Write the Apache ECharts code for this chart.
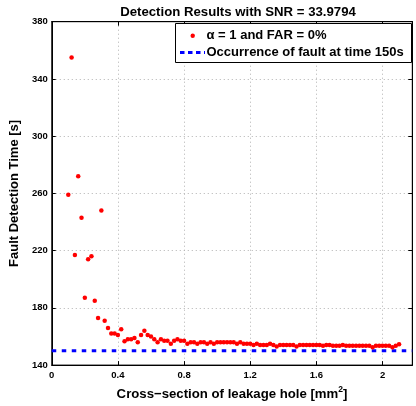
<!DOCTYPE html>
<html><head><meta charset="utf-8">
<script src="https://cdn.jsdelivr.net/npm/echarts@6/dist/echarts.min.js"></script>
<style>html,body{margin:0;padding:0;background:#fff}#c{width:416px;height:406px}</style>
</head><body><div id="c"></div>
<script>
const xs = [0.10,0.12,0.14,0.16,0.18,0.20,0.22,0.24,0.26,0.28,0.30,0.32,0.34,0.36,0.38,0.40,0.42,0.44,0.46,0.48,0.50,0.52,0.54,0.56,0.58,0.60,0.62,0.64,0.66,0.68,0.70,0.72,0.74,0.76,0.78,0.80,0.82,0.84,0.86,0.88,0.90,0.92,0.94,0.96,0.98,1.00,1.02,1.04,1.06,1.08,1.10,1.12,1.14,1.16,1.18,1.20,1.22,1.24,1.26,1.28,1.30,1.32,1.34,1.36,1.38,1.40,1.42,1.44,1.46,1.48,1.50,1.52,1.54,1.56,1.58,1.60,1.62,1.64,1.66,1.68,1.70,1.72,1.74,1.76,1.78,1.80,1.82,1.84,1.86,1.88,1.90,1.92,1.94,1.96,1.98,2.00,2.02,2.04,2.06,2.08,2.10];
const detectionTimes = [259,355,217,272,243,187,214,216,185,173,248,171,166,162,162,161,165,156.7,158,158,159,156,161,164,161,160,158,156,158,157,157,155,157,158,157,157,155,156,156,155,156,156,155,156,155,156,156,156,156,156,156,155,156,155,155,155,154,155,154,154,154,155,154,153,154,154,154,154,154,153,154,154,154,154,154,154,154,153.5,154,154,153.5,153.5,153.5,154,153.5,153.5,153.5,153.5,153.5,153.5,153.5,153.5,152.5,153.5,153.5,153.5,153.5,153.5,152.5,153.5,154.5];
const faultTime = 150;
const xTicks = [0,0.4,0.8,1.2,1.6,2];
const yTicks = [140,180,220,260,300,340,380];
const xRange = [0, 2.18];
const yRange = [140, 380];

const chart = echarts.init(document.getElementById('c'));
const F = 'Liberation Sans, Arial, sans-serif';
const grid = {left:50.5, right:3.7, top:21.7, bottom:39.3, show:true, borderColor:'#000', borderWidth:1, backgroundColor:'transparent'};
function xAxisDef(main){
  return {
    type:'value', min:xRange[0], max:xRange[1], position: main?'bottom':'top',
    axisLine:{show:true, onZero:false, lineStyle:{color:'#000',width:1}},
    axisTick:{show:true, inside:true, length:4, customValues:xTicks, lineStyle:{color:'#000'}},
    axisLabel:{show:main, customValues:xTicks, margin:5, color:'#000', fontFamily:F, fontWeight:'bold', fontSize:9.5,
      formatter:v=>String(v)},
    splitLine:{show:main, lineStyle:{color:'#b0b0b0', type:[1,3], width:1}},
    name: main ? 'Cross\u2212section of leakage hole [mm{sup|2}]' : '',
    nameLocation:'middle', nameGap:19,
    nameTextStyle:{color:'#000', fontFamily:F, fontWeight:'bold', fontSize:13.2,
      rich:{sup:{fontSize:8.5, fontWeight:'bold', fontFamily:F, color:'#000', verticalAlign:'top', padding:[0,0,10,0]}}}
  };
}
function yAxisDef(main){
  return {
    type:'value', min:yRange[0], max:yRange[1], position: main?'left':'right',
    axisLine:{show:true, onZero:false, lineStyle:{color:'#000',width:1}},
    axisTick:{show:true, inside:true, length:4, customValues:yTicks, lineStyle:{color:'#000'}},
    axisLabel:{show:main, customValues:yTicks, margin:4, color:'#000', fontFamily:F, fontWeight:'bold', fontSize:9.5},
    splitLine:{show:main, lineStyle:{color:'#b0b0b0', type:[1,3], width:1}},
    name: main ? 'Fault Detection Time [s]' : '',
    nameLocation:'middle', nameGap:22,
    nameTextStyle:{color:'#000', fontFamily:F, fontWeight:'bold', fontSize:13}
  };
}
const pts = xs.map((x,i)=>[x, detectionTimes[i]]);
chart.setOption({
  animation:false,
  title:{text:'Detection Results with SNR = 33.9794', left:233, top:1, textAlign:'center',
    textStyle:{fontFamily:F, fontWeight:'bold', fontSize:13.2, color:'#000'}},
  grid:grid,
  xAxis:[xAxisDef(true), xAxisDef(false)],
  yAxis:[yAxisDef(true), yAxisDef(false)],
  series:[
    {type:'line', xAxisIndex:0, yAxisIndex:0, data:[[xRange[0],faultTime],[xRange[1],faultTime]], showSymbol:false, symbol:'none',
      lineStyle:{color:'#0000ff', width:3, type:[4.5,5.5]}, z:2},
    {type:'scatter', xAxisIndex:0, yAxisIndex:0, data:pts, symbol:'circle', symbolSize:4.5,
      itemStyle:{color:'#ff0000', opacity:1}, z:3}
  ],
  graphic:[
    {type:'rect', shape:{x:175.5, y:23.5, width:236, height:39}, style:{fill:'#fff', stroke:'#000', lineWidth:1}, z:10},
    {type:'circle', shape:{cx:192.7, cy:35.7, r:2.2}, style:{fill:'#ff0000'}, z:11},
    {type:'text', x:206.5, y:35.7, style:{text:'\u03b1 = 1 and FAR = 0%', fill:'#000', font:'bold 13px '+F, verticalAlign:'middle'}, z:11},
    {type:'line', shape:{x1:180, y1:52.5, x2:205, y2:52.5}, style:{stroke:'#0000ff', lineWidth:3, lineDash:[4.5,3.5]}, z:11},
    {type:'text', x:206.5, y:52.5, style:{text:'Occurrence of fault at time 150s', fill:'#000', font:'bold 13px '+F, verticalAlign:'middle'}, z:11}
  ]
});
</script></body></html>
